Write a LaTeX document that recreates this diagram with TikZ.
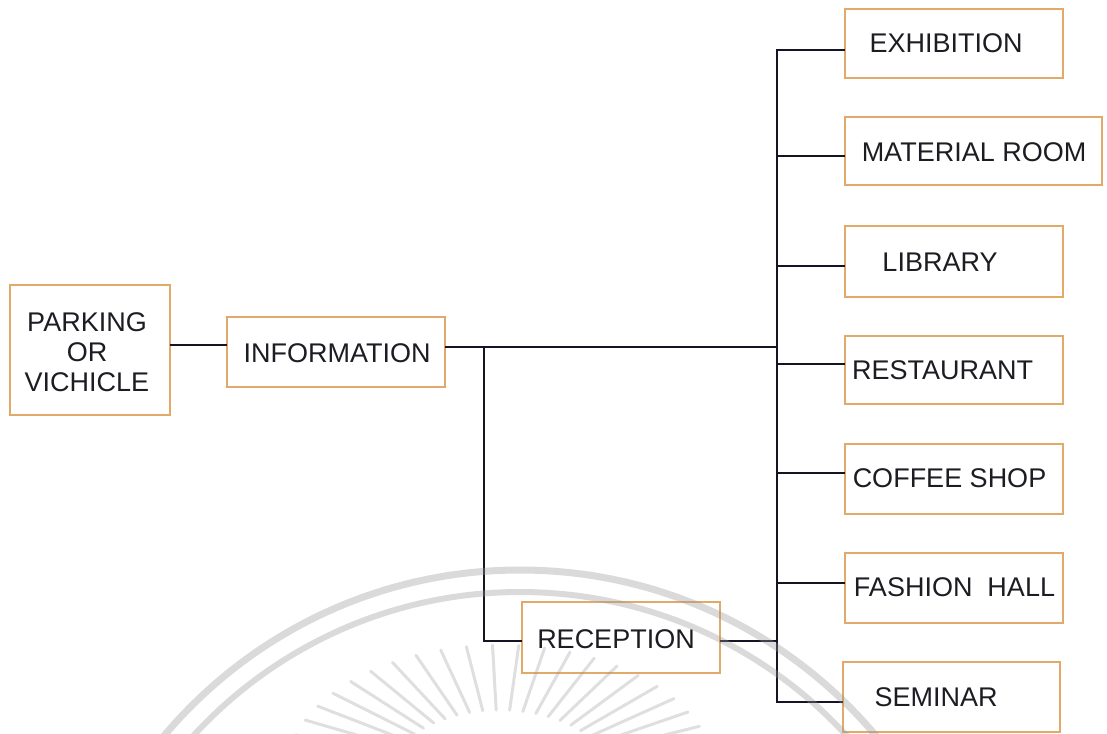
\documentclass[tikz,border=0pt]{standalone}
\usepackage{fontspec}
\setmainfont{Liberation Sans}
\definecolor{boxedge}{RGB}{226,170,106}
\definecolor{wire}{RGB}{20,20,36}
\definecolor{ink}{RGB}{28,28,34}
\definecolor{seal}{RGB}{150,150,150}
\begin{document}
\begin{tikzpicture}[x=1pt,y=-1pt,
  room/.style n args={2}{draw=boxedge, line width=2pt, fill=none,
    minimum width=#1, minimum height=#2, inner sep=0pt},
  roomtext/.style={font=\fontsize{27}{31}\selectfont, text=ink, inner sep=0pt, align=center},
  wire/.style={draw=wire, line width=2.8pt, line cap=rect}]
\useasboundingbox (0,0) rectangle (1107,733);

% boxes
\node[room={160pt}{130pt}] (park) at (90,350) {};
\node[room={218pt}{70pt}]  (info) at (336,352) {};
\node[room={198pt}{71pt}]  (rec)  at (621,637.5) {};
\node[room={218pt}{69pt}]  (exh)  at (954,43.5) {};
\node[room={257pt}{68pt}]  (mat)  at (973.5,151) {};
\node[room={218pt}{71pt}]  (lib)  at (954,261.5) {};
\node[room={218pt}{68pt}]  (rest) at (954,370) {};
\node[room={218pt}{70pt}]  (cof)  at (954,479) {};
\node[room={218pt}{70pt}]  (fash) at (954,588) {};
\node[room={217pt}{70pt}]  (sem)  at (951.5,697) {};

% captions
\node[roomtext] (park-t) at (87,352) {PARKING\\[-1pt]OR\\[-1pt]VICHICLE};
\node[roomtext] (info-t) at (337,353) {INFORMATION};
\node[roomtext] (rec-t)  at (616,639) {RECEPTION};
\node[roomtext] (exh-t)  at (946,43) {EXHIBITION};
\node[roomtext] (mat-t)  at (974,152) {MATERIAL ROOM};
\node[roomtext] (lib-t)  at (940,262) {LIBRARY};
\node[roomtext] (rest-t) at (942.5,370) {RESTAURANT};
\node[roomtext] (cof-t)  at (949.5,478) {COFFEE SHOP};
\node[roomtext] (fash-t) at (954.5,587) {FASHION\ \ HALL};
\node[roomtext] (sem-t)  at (936,697) {SEMINAR};

% junction points of the wiring
\coordinate (j0)     at (0,345);
\coordinate (split)  at (484,347);
\coordinate (busmid) at (777,347);
\coordinate (bustop) at (777,50);
\coordinate (busbot) at (777,702);
\coordinate (recy)   at (0,641);

% connectors
\draw[wire] (park.east |- j0) -- (info.west |- j0);
\draw[wire] (info.east |- split) -- (busmid);
\draw[wire] (split) |- (rec.west |- recy);
\draw[wire] (rec.east |- recy) -- (bustop |- recy);
\draw[wire] (bustop) -- (busbot);
\foreach \n/\y in {exh/50, mat/156, lib/266, rest/364, cof/473, fash/583, sem/702}
  \draw[wire] (bustop |- 0,\y) -- (\n.west |- 0,\y);

% faint seal printed over the lower part of the page
\begin{scope}
  \clip (0,0) rectangle (1107,733);
  \draw[seal, opacity=0.35, line width=7pt] (520,1035) circle[radius=465pt];
  \draw[seal, opacity=0.35, line width=6pt] (520,1035) circle[radius=443pt];
  \foreach \a in {8,15,...,172}
    \draw[seal, opacity=0.3, line width=3pt, line cap=round]
      ({500+110*cos(\a)},{775-65*sin(\a)}) -- ({500+215*cos(\a)},{775-130*sin(\a)});
\end{scope}
\end{tikzpicture}
\end{document}
